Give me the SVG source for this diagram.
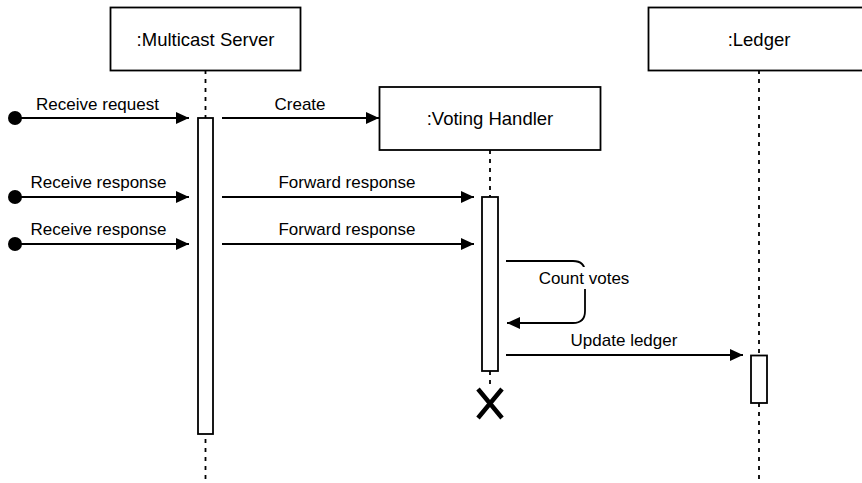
<svg xmlns="http://www.w3.org/2000/svg" width="862" height="483" viewBox="0 0 862 483">
  <style>
    .box { fill: #ffffff; stroke: #000000; stroke-width: 1.8; }
    .life { fill: none; stroke: #000000; stroke-width: 1.8; stroke-dasharray: 4 5; }
    .msg { fill: none; stroke: #000000; stroke-width: 1.8; }
    .title { font-family: "Liberation Sans", Arial, sans-serif; font-size: 18.5px; text-anchor: middle; fill: #000000; }
    .label { font-family: "Liberation Sans", Arial, sans-serif; font-size: 17px; text-anchor: middle; fill: #000000; }
  </style>
  <defs>
    <marker id="arrow" markerWidth="14" markerHeight="12" refX="13" refY="6" orient="auto" markerUnits="userSpaceOnUse">
      <path d="M0,0 L13,6 L0,12 Z" fill="#000000"/>
    </marker>
  </defs>
  <rect width="862" height="483" fill="#ffffff"/>

  <!-- lifelines -->
  <g id="lifelines">
    <line class="life" x1="205.5" y1="70" x2="205.5" y2="483"/>
    <line class="life" x1="490" y1="150" x2="490" y2="197"/>
    <line class="life" x1="490" y1="371" x2="490" y2="388"/>
    <line class="life" x1="759" y1="70" x2="759" y2="355"/>
    <line class="life" x1="759" y1="403" x2="759" y2="483"/>
  </g>

  <!-- participants -->
  <g id="multicast-server">
    <rect class="box" x="110.5" y="7.5" width="190" height="63"/>
    <text class="title" x="205.5" y="46">:Multicast Server</text>
    <rect class="box" x="198" y="118" width="15" height="316"/>
  </g>
  <g id="voting-handler">
    <rect class="box" x="379.5" y="87" width="221" height="63"/>
    <text class="title" x="490" y="125">:Voting Handler</text>
    <rect class="box" x="482" y="197" width="16" height="174"/>
    <path d="M478,389 L502,418 M502,389 L478,418" stroke="#000000" stroke-width="4.5" fill="none"/>
  </g>
  <g id="ledger">
    <rect class="box" x="648.5" y="7.5" width="222" height="63"/>
    <text class="title" x="759" y="46">:Ledger</text>
    <rect class="box" x="751" y="355.5" width="16" height="47.5"/>
  </g>

  <!-- messages -->
  <g id="connectors">
    <circle cx="15" cy="118" r="7" fill="#000000"/>
    <line class="msg" x1="15" y1="118" x2="189" y2="118" marker-end="url(#arrow)"/>
    <text class="label" x="97.5" y="110">Receive request</text>

    <circle cx="15" cy="197" r="7" fill="#000000"/>
    <line class="msg" x1="15" y1="197" x2="189" y2="197" marker-end="url(#arrow)"/>
    <text class="label" x="98.5" y="188">Receive response</text>

    <circle cx="15" cy="244" r="7" fill="#000000"/>
    <line class="msg" x1="15" y1="244" x2="189" y2="244" marker-end="url(#arrow)"/>
    <text class="label" x="98.5" y="235">Receive response</text>

    <line class="msg" x1="222" y1="118" x2="379" y2="118" marker-end="url(#arrow)"/>
    <text class="label" x="300" y="110">Create</text>

    <line class="msg" x1="222" y1="197" x2="474" y2="197" marker-end="url(#arrow)"/>
    <text class="label" x="347" y="188">Forward response</text>

    <line class="msg" x1="222" y1="244" x2="474" y2="244" marker-end="url(#arrow)"/>
    <text class="label" x="347" y="235">Forward response</text>

    <path class="msg" d="M506,261 H573 Q585,261 585,273 V311 Q585,323 573,323 H507" marker-end="url(#arrow)"/>
    <rect x="536" y="267" width="96" height="22" fill="#ffffff"/>
    <text class="label" x="584" y="284">Count votes</text>

    <line class="msg" x1="506" y1="355" x2="743" y2="355" marker-end="url(#arrow)"/>
    <text class="label" x="624" y="346">Update ledger</text>
  </g>
</svg>
